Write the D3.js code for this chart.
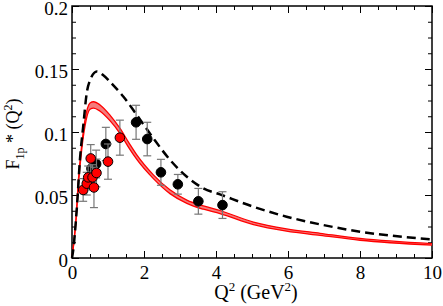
<!DOCTYPE html>
<html lang="en">
<head>
  <meta charset="UTF-8">
  <title>F1p* form factor</title>
  <style>
    body { margin: 0; background: #fff; }
    svg { display: block; }
  </style>
</head>
<body>
  <svg id="chart" width="443" height="306" font-family="Liberation Serif"></svg>
  <script src="https://cdn.jsdelivr.net/npm/d3@7"></script>
  <script>
    // model curves
    const bandQ2 = [0, 0.05, 0.11, 0.175, 0.27, 0.36, 0.5, 0.6, 0.78, 1.06, 1.33, 1.59, 1.8, 2.26, 2.72, 3.19, 3.65, 4.11, 5.04, 5.96, 6.89, 8.0, 10];
    const bandHigh = [0, 0.0125, 0.031, 0.061, 0.090, 0.1095, 0.123, 0.124, 0.1215, 0.1132, 0.103, 0.091, 0.0818, 0.066, 0.0541, 0.046, 0.0413, 0.0377, 0.0285, 0.0231, 0.0196, 0.0155, 0.0114];
    const bandLow = [0, 0.0115, 0.029, 0.057, 0.086, 0.1045, 0.118, 0.119, 0.1165, 0.1088, 0.099, 0.087, 0.0782, 0.063, 0.0511, 0.0434, 0.0387, 0.0353, 0.0265, 0.0213, 0.018, 0.0141, 0.0102];

    const dashQ2 = [0, 0.05, 0.08, 0.15, 0.22, 0.31, 0.41, 0.5, 0.69, 0.87, 1.15, 1.43, 1.8, 2.26, 2.72, 3.19, 3.65, 4.11, 5.04, 5.96, 6.89, 8.0, 10];
    const dashF = [0, 0.010, 0.0196, 0.046, 0.078, 0.104, 0.131, 0.141, 0.148, 0.145, 0.137, 0.128, 0.1135, 0.095, 0.078, 0.0645, 0.0553, 0.0505, 0.0407, 0.0328, 0.0267, 0.0209, 0.0148];

    // data points: Q2, F, error
    const blackQ2 = [0.54, 0.67, 0.94, 1.78, 2.09, 2.47, 2.94, 3.51, 4.18];
    const blackF = [0.071, 0.0746, 0.0905, 0.1077, 0.0944, 0.068, 0.0585, 0.045, 0.042];
    const blackErr = [0.010, 0.011, 0.0132, 0.0135, 0.0133, 0.0103, 0.0078, 0.0102, 0.0106];

    const redQ2 = [0.31, 0.41, 0.45, 0.52, 0.57, 0.61, 0.68, 1.0, 1.33];
    const redF = [0.054, 0.059, 0.064, 0.079, 0.064, 0.056, 0.0675, 0.0765, 0.0955];
    const redErr = [0.009, 0.009, 0.009, 0.011, 0.010, 0.016, 0.011, 0.014, 0.0139];

    const xTicks = [0, 2, 4, 6, 8, 10];
    const yTicks = [0, 0.05, 0.1, 0.15, 0.2];

    const margin = { top: 6, right: 11, bottom: 48, left: 72 };
    const width = 443, height = 306;

    const svg = d3.select("#chart");

    const x = d3.scaleLinear().domain([0, 10]).range([margin.left, width - margin.right]);
    const y = d3.scaleLinear().domain([0, 0.2]).range([height - margin.bottom, margin.top]);

    const minorX = d3.range(0, 10.01, 0.5).filter(v => v % 2 !== 0);
    const minorY = d3.range(0, 0.2001, 0.0125).filter(v => Math.abs(v / 0.05 - Math.round(v / 0.05)) > 1e-6);

    function drawAxis(axisFn, scale, ticks, minors, transform, labels, pad) {
      const g = svg.append("g").attr("transform", transform);
      g.call(axisFn(scale).tickValues(minors).tickSize(-4).tickFormat(""));
      g.select(".domain").remove();
      const g2 = svg.append("g").attr("transform", transform);
      g2.call(axisFn(scale).tickValues(ticks).tickSize(-7).tickPadding(pad)
        .tickFormat(labels ? d3.format("") : ""));
      g2.select(".domain").remove();
      g2.attr("font-size", 19).attr("font-family", "Liberation Serif");
      svg.selectAll(".tick line").attr("stroke", "#000").attr("stroke-width", 1);
      return g2;
    }

    drawAxis(d3.axisBottom, x, xTicks, minorX, `translate(0,${y(0)})`, true, 8)
      .selectAll("text").attr("fill", "#000");
    drawAxis(d3.axisTop, x, xTicks, minorX, `translate(0,${y(0.2)})`, false, 8);
    drawAxis(d3.axisLeft, y, yTicks, minorY, `translate(${x(0)},0)`, true, 4)
      .selectAll("text").attr("fill", "#000").attr("dy", "0.45em");
    drawAxis(d3.axisRight, y, yTicks, minorY, `translate(${x(10)},0)`, false, 4);

    // frame
    svg.append("rect")
      .attr("x", x(0)).attr("y", y(0.2))
      .attr("width", x(10) - x(0)).attr("height", y(0) - y(0.2))
      .attr("fill", "none").attr("stroke", "#000").attr("stroke-width", 1.5);

    const plot = svg.append("g");

    // red band
    const bandData = bandQ2.map((q, i) => ({ q, lo: bandLow[i], hi: bandHigh[i] }));
    plot.append("path")
      .datum(bandData)
      .attr("fill", "#f47c7c")
      .attr("d", d3.area().curve(d3.curveMonotoneX)
        .x(d => x(d.q)).y0(d => y(d.lo)).y1(d => y(d.hi)));
    ["lo", "hi"].forEach(k => {
      plot.append("path")
        .datum(bandData)
        .attr("fill", "none").attr("stroke", "#ff0000").attr("stroke-width", 1.3)
        .attr("d", d3.line().curve(d3.curveMonotoneX).x(d => x(d.q)).y(d => y(d[k])));
    });

    // dashed curve
    plot.append("path")
      .datum(dashQ2.map((q, i) => [q, dashF[i]]))
      .attr("fill", "none").attr("stroke", "#000").attr("stroke-width", 2.5)
      .attr("stroke-dasharray", "9,5")
      .attr("d", d3.line().curve(d3.curveMonotoneX).x(d => x(d[0])).y(d => y(d[1])));

    function drawPoints(qs, fs, errs, fill) {
      const pts = qs.map((q, i) => ({ q, f: fs[i], e: errs[i] }));
      const eb = plot.append("g").attr("stroke", "#777").attr("stroke-width", 1.2);
      pts.forEach(d => {
        const cx = x(d.q);
        eb.append("line").attr("x1", cx).attr("x2", cx).attr("y1", y(d.f - d.e)).attr("y2", y(d.f + d.e));
        [d.f - d.e, d.f + d.e].forEach(v => {
          eb.append("line").attr("x1", cx - 4).attr("x2", cx + 4).attr("y1", y(v)).attr("y2", y(v));
        });
      });
      plot.append("g").selectAll("circle")
        .data(pts).join("circle")
        .attr("cx", d => x(d.q)).attr("cy", d => y(d.f)).attr("r", 4.8)
        .attr("fill", fill).attr("stroke", "#000").attr("stroke-width", 1);
    }
    drawPoints(blackQ2, blackF, blackErr, "#000");
    drawPoints(redQ2, redF, redErr, "#ff0000");

    // axis titles
    const xt = svg.append("text")
      .attr("x", (x(0) + x(10)) / 2 + 4).attr("y", 299)
      .attr("text-anchor", "middle").attr("font-size", 20);
    xt.append("tspan").text("Q");
    xt.append("tspan").attr("dy", -8).attr("font-size", 13).text("2");
    xt.append("tspan").attr("dy", 8).text(" (GeV");
    xt.append("tspan").attr("dy", -8).attr("font-size", 13).text("2");
    xt.append("tspan").attr("dy", 8).text(")");

    const yt = svg.append("text")
      .attr("transform", `translate(19,${(y(0) + y(0.2)) / 2 + 2}) rotate(-90)`)
      .attr("text-anchor", "middle").attr("font-size", 18);
    yt.append("tspan").text("F");
    yt.append("tspan").attr("dy", 5).attr("font-size", 12).text("1p");
    yt.append("tspan").attr("dy", -5).text(" *");
    yt.append("tspan").text(" (Q");
    yt.append("tspan").attr("dy", -7).attr("font-size", 12).text("2");
    yt.append("tspan").attr("dy", 7).text(")");
  </script>
</body>
</html>
